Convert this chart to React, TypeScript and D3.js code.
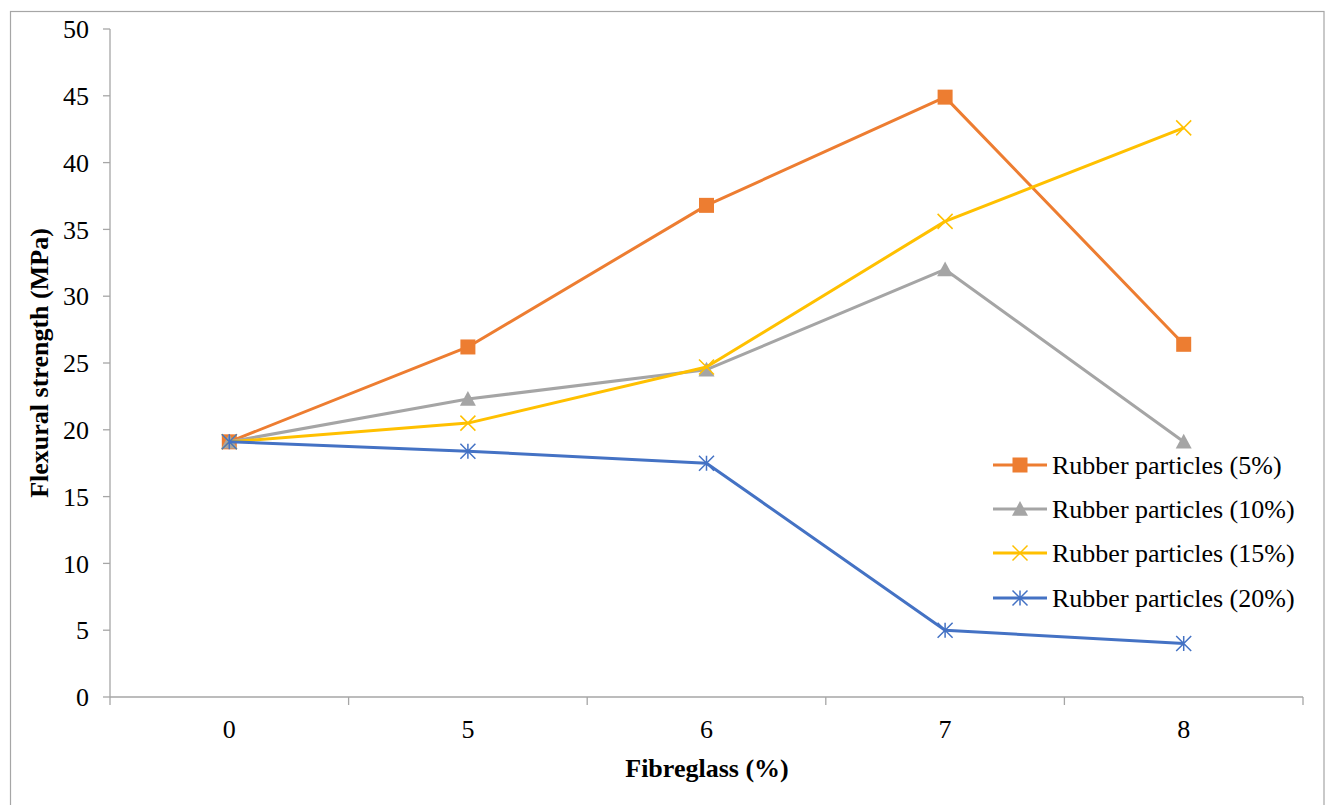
import React from "react";
import * as d3 from "d3";

const categories = ["0", "5", "6", "7", "8"];
const seriesNames = [
  "Rubber particles (5%)",
  "Rubber particles (10%)",
  "Rubber particles (15%)",
  "Rubber particles (20%)",
];
const rubber5 = [19.1, 26.2, 36.8, 44.9, 26.4];
const rubber10 = [19.1, 22.3, 24.5, 32.0, 19.1];
const rubber15 = [19.1, 20.5, 24.7, 35.6, 42.6];
const rubber20 = [19.1, 18.4, 17.5, 5.0, 4.0];
const yTicks = [0, 5, 10, 15, 20, 25, 30, 35, 40, 45, 50];

const colors = ["#ED7D31", "#A5A5A5", "#FFC000", "#4472C4"];
const markerKinds = ["square", "triangle", "x", "star"];

const W = 1325;
const H = 805;
const margin = { left: 110, right: 1303, top: 29, bottom: 697 };
const FONT = "'Liberation Serif', 'Times New Roman', serif";
const FS = 26;

function Marker({ kind, x, y, color }: { kind: string; x: number; y: number; color: string }) {
  if (kind === "square") {
    return <rect x={x - 7.5} y={y - 7.5} width={15} height={15} fill={color} />;
  }
  if (kind === "triangle") {
    const s = 8;
    return (
      <path
        d={`M${x},${y - s}L${x + s},${y + s * 0.85}L${x - s},${y + s * 0.85}Z`}
        fill={color}
      />
    );
  }
  if (kind === "x") {
    const s = 7.5;
    return (
      <path
        d={`M${x - s},${y - s}L${x + s},${y + s}M${x - s},${y + s}L${x + s},${y - s}`}
        stroke={color}
        strokeWidth={1.5}
      />
    );
  }
  const s = 7.5;
  return (
    <path
      d={`M${x - s},${y - s}L${x + s},${y + s}M${x - s},${y + s}L${x + s},${y - s}M${x},${y - s}L${x},${y + s}`}
      stroke={color}
      strokeWidth={1.5}
    />
  );
}

export default function App() {
  const series = [rubber5, rubber10, rubber15, rubber20];
  const x = d3
    .scaleBand<string>()
    .domain(categories)
    .range([margin.left, margin.right])
    .padding(0);
  const y = d3.scaleLinear().domain([0, 50]).range([margin.bottom, margin.top]);
  const cx = (c: string) => (x(c) as number) + x.bandwidth() / 2;

  const line = d3
    .line<number>()
    .x((_, i) => cx(categories[i]))
    .y((v) => y(v));

  const axisColor = "#A6A6A6";
  const boundaries = categories.map((c) => x(c) as number).concat([margin.right]);

  const legendX = 993;
  const legendRows = [465, 509, 553, 598];

  return (
    <svg
      width={W}
      height={H}
      style={{ position: "absolute", left: 0, top: 0, background: "#fff" }}
      fontFamily={FONT}
    >
      <rect x={10.5} y={11.5} width={1313.5} height={H + 10} fill="none" stroke="#A6A6A6" strokeWidth={1.2} />

      {/* y axis */}
      <line x1={margin.left} x2={margin.left} y1={margin.top} y2={margin.bottom} stroke={axisColor} strokeWidth={1.3} />
      {yTicks.map((t) => (
        <g key={t}>
          <line x1={margin.left - 7} x2={margin.left} y1={y(t)} y2={y(t)} stroke={axisColor} strokeWidth={1.3} />
          <text x={89} y={y(t)} dy="0.35em" textAnchor="end" fontSize={FS} fill="#000">
            {t}
          </text>
        </g>
      ))}

      {/* x axis */}
      <line x1={margin.left} x2={margin.right} y1={margin.bottom} y2={margin.bottom} stroke={axisColor} strokeWidth={1.3} />
      {boundaries.map((b, i) => (
        <line key={i} x1={b} x2={b} y1={margin.bottom} y2={margin.bottom + 8} stroke={axisColor} strokeWidth={1.3} />
      ))}
      {categories.map((c) => (
        <text key={c} x={cx(c)} y={738} textAnchor="middle" fontSize={FS} fill="#000">
          {c}
        </text>
      ))}

      <text x={707} y={777} textAnchor="middle" fontSize={FS} fontWeight="bold" fill="#000">
        Fibreglass (%)
      </text>
      <text
        transform={`translate(48,${363}) rotate(-90)`}
        textAnchor="middle"
        fontSize={FS}
        fontWeight="bold"
        fill="#000"
      >
        Flexural strength (MPa)
      </text>

      {/* series */}
      {series.map((vals, si) => (
        <g key={si}>
          <path d={line(vals) as string} fill="none" stroke={colors[si]} strokeWidth={3} strokeLinejoin="round" />
          {vals.map((v, i) => (
            <Marker key={i} kind={markerKinds[si]} x={cx(categories[i])} y={y(v)} color={colors[si]} />
          ))}
        </g>
      ))}

      {/* legend */}
      {seriesNames.map((name, si) => (
        <g key={name}>
          <line x1={legendX} x2={legendX + 54} y1={legendRows[si]} y2={legendRows[si]} stroke={colors[si]} strokeWidth={3} />
          <Marker kind={markerKinds[si]} x={legendX + 27} y={legendRows[si]} color={colors[si]} />
          <text x={legendX + 59} y={legendRows[si]} dy="0.35em" fontSize={FS} fill="#000">
            {name}
          </text>
        </g>
      ))}
    </svg>
  );
}
